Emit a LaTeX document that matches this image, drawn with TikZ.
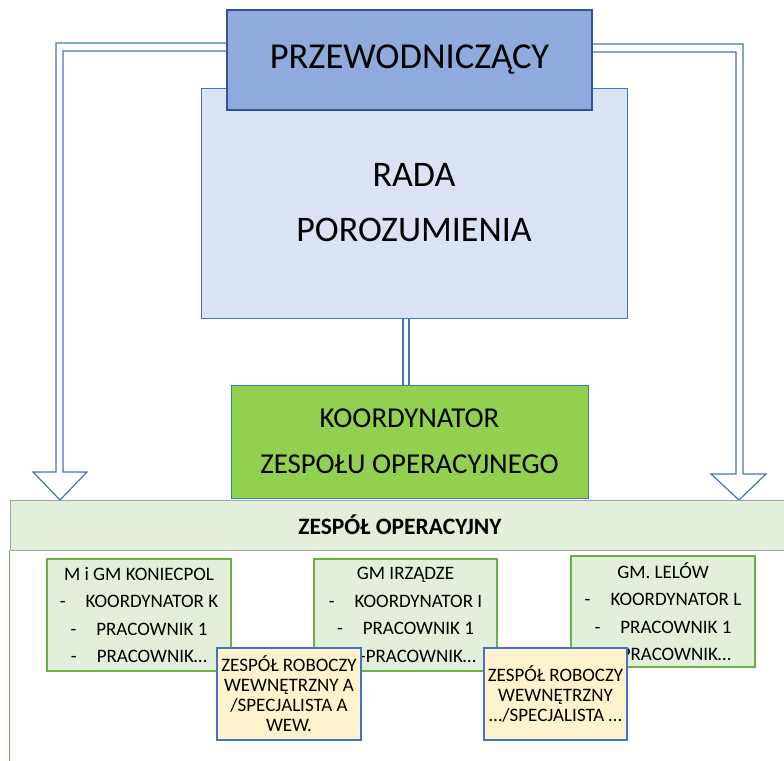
\documentclass[tikz,border=0pt]{standalone}
\usepackage{fontspec}
\setmainfont{Carlito}
\definecolor{przfill}{HTML}{8FAADC}
\definecolor{przline}{HTML}{2F5597}
\definecolor{radafill}{HTML}{DAE3F3}
\definecolor{blueline}{HTML}{4472C4}
\definecolor{koordfill}{HTML}{92D050}
\definecolor{greenfill}{HTML}{E2EFDA}
\definecolor{greenline}{HTML}{70AD47}
\definecolor{grayline}{HTML}{A5A5A5}
\definecolor{yellowfill}{HTML}{FFF2CC}
\begin{document}
\begin{tikzpicture}[x=1pt,y=-1pt,
  box/.style={rectangle, inner sep=0pt, align=center, text=black},
  bigbox/.style={box, fill=przfill, draw=przline, line width=1.2pt, font=\fontsize{36.5}{40}\selectfont},
  radabox/.style={box, fill=radafill, draw=blueline, line width=1pt, font=\fontsize{36}{55}\selectfont},
  koordbox/.style={box, fill=koordfill, draw=blueline, line width=1pt, font=\fontsize{28.8}{46}\selectfont},
  headbox/.style={box, fill=greenfill, draw=grayline, line width=1pt, font=\bfseries\fontsize{23.5}{26}\selectfont},
  unitbox/.style={box, fill=greenfill, draw=greenline, line width=1.3pt, font=\fontsize{19}{27.5}\selectfont},
  teambox/.style={box, fill=yellowfill, draw=blueline, line width=1.2pt, font=\fontsize{19}{20}\selectfont},
  outline/.style={draw=blueline, line width=1.2pt, fill=white, line join=miter},
  dbl/.style={draw=blueline, line width=1.2pt}
]
\clip (0,0) rectangle (784,760);
\fill[white] (0,0) rectangle (784,760);

% Rada
\node[radabox, minimum width=426pt, minimum height=230pt] (rada) at (414,203) {RADA\\POROZUMIENIA};

% Arrows outlines
\coordinate (la1) at (227,43);
\coordinate (la2) at (227,51);
\coordinate (ra1) at (592,44);
\coordinate (ra2) at (592,52);
\path[outline] (la1) -- (56,43) -- (56,472) -- (33,472) -- (60,500) -- (87,472) -- (63,472) -- (63,51) -- (la2);
\path[outline] (ra1) -- (743,44) -- (743,474) -- (766,474) -- (739,500) -- (711,474) -- (736,474) -- (736,52) -- (ra2);

% Przewodniczacy
\node[bigbox, minimum width=365pt, minimum height=100pt] (prz) at (409.5,60) {PRZEWODNICZĄCY};

% Koordynator
\node[koordbox, minimum width=357pt, minimum height=113pt] (koord) at (409.5,441.5) {KOORDYNATOR\\ZESPOŁU OPERACYJNEGO};

% connector rada -> koord (double line)
\draw[dbl] ([xshift=-11pt]rada.south) -- ([xshift=-11pt]rada.south |- koord.north);
\draw[dbl] ([xshift=-5pt]rada.south) -- ([xshift=-5pt]rada.south |- koord.north);

% Zespol operacyjny header
\node[headbox, minimum width=780pt, minimum height=50pt] (head) at (400,525) {ZESPÓŁ OPERACYJNY};
\draw[greenline, line width=1.3pt] (head.south west) -- ++(0,230);

% unit boxes
\node[unitbox, minimum width=184pt, minimum height=112pt] (u1) at (139,615)
 {M i GM KONIECPOL\\-\hspace{20pt}KOORDYNATOR K\\-\hspace{20pt}PRACOWNIK 1\\-\hspace{20pt}PRACOWNIK…};
\node[unitbox, minimum width=183pt, minimum height=112pt] (u2) at (405.5,615)
 {GM IRZĄDZE\\-\hspace{20pt}KOORDYNATOR I\\-\hspace{20pt}PRACOWNIK 1\\\hspace*{25pt}-PRACOWNIK…};
\node[unitbox, minimum width=184pt, minimum height=111pt] (u3) at (663,611.5)
 {GM. LELÓW\\-\hspace{20pt}KOORDYNATOR L\\-\hspace{20pt}PRACOWNIK 1\\-\hspace{20pt}PRACOWNIK…};

% team boxes
\node[teambox, minimum width=144pt, minimum height=92pt] (t1) at (289,694)
 {ZESPÓŁ ROBOCZY\\WEWNĘTRZNY A\\/SPECJALISTA A\\WEW.};
\node[teambox, minimum width=143pt, minimum height=92pt] (t2) at (555.5,694)
 {ZESPÓŁ ROBOCZY\\WEWNĘTRZNY\\…/SPECJALISTA …};
\end{tikzpicture}
\end{document}
